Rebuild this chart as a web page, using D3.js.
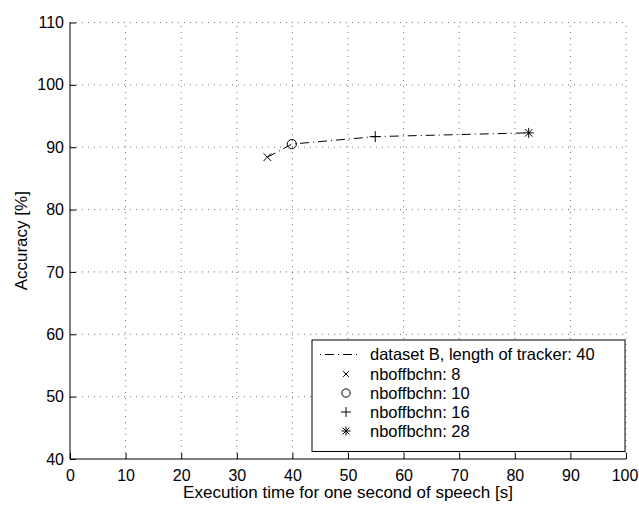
<!DOCTYPE html>
<html>
<head>
<meta charset="utf-8">
<script src="https://cdn.jsdelivr.net/npm/d3@7"></script>
<style>
  html, body { margin: 0; padding: 0; background: #fff; }
  svg { display: block; font-family: "Liberation Sans", Arial, Helvetica, sans-serif; }
</style>
</head>
<body>
<svg id="chart" width="639" height="505"></svg>
<script>
// Execution time vs. accuracy for different nboffbchn settings
const execTime = [35.5, 39.9, 54.9, 82.5];
const accuracy = [88.4, 90.5, 91.7, 92.3];
const markerKinds = ["x", "circle", "plus", "star"];
const seriesLabel = "dataset B, length of tracker: 40";
const markerLabels = ["nboffbchn: 8", "nboffbchn: 10", "nboffbchn: 16", "nboffbchn: 28"];
const xTicks = [0, 10, 20, 30, 40, 50, 60, 70, 80, 90, 100];
const yTicks = [40, 50, 60, 70, 80, 90, 100, 110];

const svg = d3.select("#chart");
const plotLeft = 70, plotRight = 626, plotTop = 22.5, plotBottom = 459;
const tickFont = "16px", labelFont = "17px", legendFont = "16.5px";

const x = d3.scaleLinear().domain([0, 100]).range([plotLeft, plotRight]);
const y = d3.scaleLinear().domain([40, 110]).range([plotBottom, plotTop]);

// dotted grid
const grid = svg.append("g").attr("stroke", "#000").attr("stroke-width", 0.8)
  .attr("stroke-dasharray", "1,5").attr("opacity", 0.7);
xTicks.filter(v => v > 0).forEach(v => {
  grid.append("line").attr("x1", x(v)).attr("x2", x(v)).attr("y1", plotBottom).attr("y2", plotTop);
});
yTicks.filter(v => v > 40).forEach(v => {
  grid.append("line").attr("x1", plotLeft).attr("x2", plotRight).attr("y1", y(v)).attr("y2", y(v));
});

// axes
const xAxis = d3.axisBottom(x).tickValues(xTicks).tickSize(-6).tickPadding(10).tickFormat(d3.format("d"));
const yAxis = d3.axisLeft(y).tickValues(yTicks).tickSize(-6).tickPadding(6).tickFormat(d3.format("d"));

const gx = svg.append("g").attr("transform", `translate(0,${plotBottom})`).call(xAxis);
const gy = svg.append("g").attr("transform", `translate(${plotLeft},0)`).call(yAxis);
[gx, gy].forEach(g => {
  g.select(".domain").attr("stroke", "#000").attr("stroke-width", 1);
  g.selectAll(".tick line").attr("stroke", "#000").attr("stroke-width", 1);
  g.selectAll(".tick text").attr("fill", "#000").style("font-size", tickFont)
    .style("font-family", "'Liberation Sans', Arial, sans-serif");
});
gx.select(".domain").attr("d", `M${plotLeft},0H${plotRight}`);
gy.select(".domain").attr("d", `M0,${plotBottom}V${plotTop}`);
gx.selectAll(".tick text").attr("dy", "0.72em");
// keep the last x label inside the canvas
gx.selectAll(".tick text").filter(d => d === 100).attr("dx", "-1.5px");

// axis titles
svg.append("text").attr("x", x(50)).attr("y", 498).attr("text-anchor", "middle")
  .style("font-size", labelFont).text("Execution time for one second of speech [s]");
svg.append("text").attr("transform", `translate(27,${y(75)}) rotate(-90)`)
  .attr("text-anchor", "middle").style("font-size", labelFont).text("Accuracy [%]");

// marker drawing
function drawMarker(g, kind, cx, cy, scale = 1) {
  const p = g.append("g").attr("stroke", "#000").attr("stroke-width", 1).attr("fill", "none");
  if (kind === "x") {
    const s = 3.8 * scale;
    p.append("line").attr("x1", cx - s).attr("y1", cy - s).attr("x2", cx + s).attr("y2", cy + s);
    p.append("line").attr("x1", cx - s).attr("y1", cy + s).attr("x2", cx + s).attr("y2", cy - s);
  } else if (kind === "circle") {
    p.append("circle").attr("cx", cx).attr("cy", cy).attr("r", 4.6 * scale);
  } else if (kind === "plus") {
    const s = 5.5 * scale;
    p.append("line").attr("x1", cx - s).attr("y1", cy).attr("x2", cx + s).attr("y2", cy);
    p.append("line").attr("x1", cx).attr("y1", cy - s).attr("x2", cx).attr("y2", cy + s);
  } else if (kind === "star") {
    const r = 5 * scale;
    p.append("line").attr("x1", cx - r).attr("y1", cy).attr("x2", cx + r).attr("y2", cy);
    p.append("line").attr("x1", cx).attr("y1", cy - r).attr("x2", cx).attr("y2", cy + r);
    p.append("line").attr("x1", cx - r * 0.75).attr("y1", cy - r * 0.75).attr("x2", cx + r * 0.75).attr("y2", cy + r * 0.75);
    p.append("line").attr("x1", cx - r * 0.75).attr("y1", cy + r * 0.75).attr("x2", cx + r * 0.75).attr("y2", cy - r * 0.75);
  }
}

// dash-dot series line
const pts = execTime.map((t, i) => [t, accuracy[i]]);
svg.append("path").datum(pts)
  .attr("d", d3.line().x(d => x(d[0])).y(d => y(d[1])))
  .attr("fill", "none").attr("stroke", "#000").attr("stroke-width", 1)
  .attr("stroke-dasharray", "9,4,1,4");

pts.forEach((d, i) => drawMarker(svg, markerKinds[i], x(d[0]), y(d[1])));

// legend
const lg = svg.append("g");
const lx0 = 312, ly0 = 340, lx1 = 625, ly1 = 451.5;
lg.append("rect").attr("x", lx0).attr("y", ly0).attr("width", lx1 - lx0).attr("height", ly1 - ly0)
  .attr("fill", "#fff").attr("stroke", "#000").attr("stroke-width", 1);
const rowY = [354.5, 374, 393, 412, 431];
lg.append("line").attr("x1", 320).attr("x2", 359).attr("y1", rowY[0]).attr("y2", rowY[0])
  .attr("stroke", "#000").attr("stroke-width", 1).attr("stroke-dasharray", "1,4,9,4");
lg.append("text").attr("x", 370).attr("y", rowY[0]).attr("dy", "0.35em")
  .style("font-size", legendFont).text(seriesLabel);
markerLabels.forEach((lab, i) => {
  const ry = rowY[i + 1];
  drawMarker(lg, markerKinds[i], 346, ry, markerKinds[i] === "x" ? 0.75 : 0.9);
  lg.append("text").attr("x", 370).attr("y", ry).attr("dy", "0.35em")
    .style("font-size", legendFont).text(lab);
});
</script>
</body>
</html>
